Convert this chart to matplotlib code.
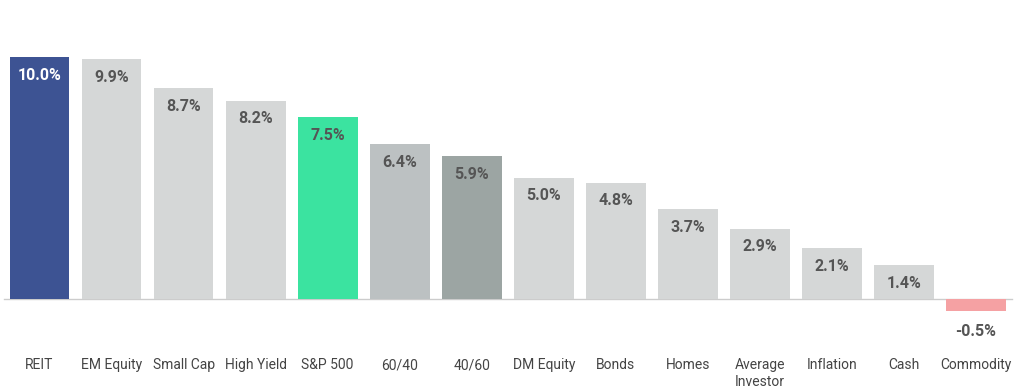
import matplotlib.pyplot as plt

categories = ["REIT", "EM Equity", "Small Cap", "High Yield", "S&P 500", "60/40", "40/60",
              "DM Equity", "Bonds", "Homes", "Average\nInvestor", "Inflation", "Cash", "Commodity"]
returns = [10.0, 9.9, 8.7, 8.2, 7.5, 6.4, 5.9, 5.0, 4.8, 3.7, 2.9, 2.1, 1.4, -0.5]
colors = ["#3d5393", "#d5d7d7", "#d5d7d7", "#d5d7d7", "#3be3a0", "#bcc1c2", "#9ca5a3",
          "#d5d7d7", "#d5d7d7", "#d5d7d7", "#d5d7d7", "#d5d7d7", "#d5d7d7", "#f5a1a3"]

plt.rcParams['font.family'] = ['Roboto', 'DejaVu Sans']

fig = plt.figure(figsize=(10.18, 3.90), dpi=100)
ax = fig.add_axes([0, 0, 1, 1])

x = range(len(categories))
ax.bar(x, returns, width=0.83, color=colors, zorder=2)
ax.axhline(0, color="#cccccc", lw=1, xmin=4 / 1018, xmax=1012 / 1018, zorder=1)

ppu = 24.2  # pixels per percent
for i, v in enumerate(returns):
    txt_col = "white" if i == 0 else "#555555"
    off = 18 if v >= 0 else 20
    ax.text(i, v - off / ppu, f"{v:.1f}%", ha="center", va="center",
            fontsize=11.5, fontweight="bold", color=txt_col)
    ax.text(i, -59 / ppu, categories[i], ha="center", va="top",
            fontsize=10, color="#444444", linespacing=1.25)

ax.set_xlim(-39.5 / 72.04, 13 + (1018 - 976) / 72.04)
ax.set_ylim(-(390 - 299) / ppu, 299 / ppu)
ax.axis("off")

fig.savefig("out.png", dpi=100)
